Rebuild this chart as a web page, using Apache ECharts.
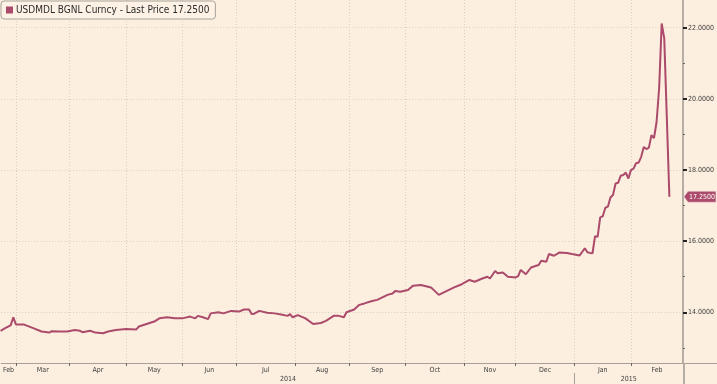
<!DOCTYPE html>
<html>
<head>
<meta charset="utf-8">
<title>USDMDL BGNL Curncy</title>
<script src="https://cdn.jsdelivr.net/npm/echarts@6/dist/echarts.min.js"></script>
<style>
  html, body { margin: 0; padding: 0; background: #fcefdf; }
  #chart { width: 717px; height: 384px; }
</style>
</head>
<body>
<div id="chart"></div>
<script>
// USDMDL fixings (weekday calendar, no weekends)
const dates = [
  '2014-02-21', '2014-02-25', '2014-02-26', '2014-02-27', '2014-02-28', '2014-03-03', '2014-03-06',
  '2014-03-12', '2014-03-17', '2014-03-20', '2014-03-21', '2014-03-26', '2014-03-31', '2014-04-03',
  '2014-04-07', '2014-04-08', '2014-04-11', '2014-04-15', '2014-04-18', '2014-04-22', '2014-04-25',
  '2014-05-01', '2014-05-07', '2014-05-08', '2014-05-13', '2014-05-16', '2014-05-20', '2014-05-23',
  '2014-05-28', '2014-06-02', '2014-06-05', '2014-06-09', '2014-06-10', '2014-06-12', '2014-06-16',
  '2014-06-17', '2014-06-20', '2014-06-24', '2014-06-27', '2014-07-02', '2014-07-04', '2014-07-08',
  '2014-07-09', '2014-07-10', '2014-07-14', '2014-07-17', '2014-07-22', '2014-07-25', '2014-07-29',
  '2014-07-30', '2014-07-31', '2014-08-04', '2014-08-07', '2014-08-12', '2014-08-15', '2014-08-19',
  '2014-08-22', '2014-08-26', '2014-08-28', '2014-08-29', '2014-09-03', '2014-09-05', '2014-09-09',
  '2014-09-12', '2014-09-16', '2014-09-22', '2014-09-24', '2014-09-25', '2014-09-29', '2014-10-02',
  '2014-10-06', '2014-10-09', '2014-10-15', '2014-10-16', '2014-10-20', '2014-10-22', '2014-10-24',
  '2014-10-28', '2014-10-31', '2014-11-05', '2014-11-07', '2014-11-12', '2014-11-14', '2014-11-17',
  '2014-11-19', '2014-11-20', '2014-11-24', '2014-11-26', '2014-12-01', '2014-12-02', '2014-12-03',
  '2014-12-05', '2014-12-09', '2014-12-11', '2014-12-12', '2014-12-15', '2014-12-17', '2014-12-18',
  '2014-12-22', '2014-12-24', '2014-12-29', '2014-12-31', '2015-01-05', '2015-01-07', '2015-01-08',
  '2015-01-09', '2015-01-12', '2015-01-13', '2015-01-14', '2015-01-15', '2015-01-16', '2015-01-19',
  '2015-01-20', '2015-01-21', '2015-01-22', '2015-01-23', '2015-01-26', '2015-01-27', '2015-01-28',
  '2015-01-29', '2015-01-30', '2015-02-02', '2015-02-03', '2015-02-04', '2015-02-05', '2015-02-06',
  '2015-02-09', '2015-02-10', '2015-02-11', '2015-02-12', '2015-02-13', '2015-02-16', '2015-02-17',
  '2015-02-18', '2015-02-19', '2015-02-23'
];
const prices = [
  13.48, 13.56, 13.60, 13.64, 13.86, 13.66, 13.66,
  13.55, 13.46, 13.43, 13.47, 13.46, 13.46, 13.50,
  13.48, 13.44, 13.48, 13.43, 13.41, 13.46, 13.50,
  13.53, 13.52, 13.60, 13.67, 13.74, 13.83, 13.86,
  13.83, 13.83, 13.88, 13.83, 13.90, 13.86, 13.81,
  13.97, 14.00, 13.97, 14.04, 14.02, 14.08, 14.08,
  13.95, 13.96, 14.04, 13.99, 13.97, 13.93, 13.90,
  13.95, 13.86, 13.92, 13.83, 13.67, 13.70, 13.76,
  13.90, 13.90, 13.86, 14.00, 14.08, 14.21, 14.25,
  14.32, 14.35, 14.49, 14.53, 14.60, 14.58, 14.63,
  14.75, 14.77, 14.70, 14.63, 14.49, 14.56, 14.63,
  14.70, 14.79, 14.91, 14.86, 14.95, 15.00, 14.95,
  15.16, 15.10, 15.12, 15.00, 14.98, 15.02, 15.19,
  15.07, 15.26, 15.31, 15.33, 15.45, 15.42, 15.64,
  15.59, 15.68, 15.67, 15.64, 15.60, 15.80, 15.69,
  15.67, 15.66, 16.14, 16.12, 16.67, 16.70, 16.94,
  16.97, 17.23, 17.30, 17.62, 17.64, 17.84, 17.86,
  17.93, 17.76, 18.00, 18.04, 18.19, 18.21, 18.37,
  18.65, 18.59, 18.63, 18.98, 18.90, 19.35, 20.30,
  22.12, 21.70, 17.25
];
const monthLabels = ['Feb', 'Mar', 'Apr', 'May', 'Jun', 'Jul', 'Aug', 'Sep', 'Oct', 'Nov', 'Dec', 'Jan', 'Feb'];
const monthStarts = ['2014-03-01', '2014-04-01', '2014-05-01', '2014-06-01', '2014-07-01', '2014-08-01',
  '2014-09-01', '2014-10-01', '2014-11-01', '2014-12-01', '2015-01-01', '2015-02-01'];
const yearLabels = ['2014', '2015'];
const yearStart = '2015-01-01';
const yMajorTicks = [14, 16, 18, 20, 22];
const yMinorTicks = [13, 15, 17, 19, 21];

const ticker = 'USDMDL BGNL Curncy';
const lineColor = '#ab4a6b';
const font = "'DejaVu Sans Condensed', 'DejaVu Sans', sans-serif";

// x is a weekday count from Mon 2014-02-24
const T0 = Date.UTC(2014, 1, 24);
function wd(s) {
  const p = s.split('-');
  const days = Math.round((Date.UTC(+p[0], +p[1] - 1, +p[2]) - T0) / 86400000);
  const weeks = Math.floor(days / 7);
  return weeks * 5 + Math.min(days - weeks * 7, 5);
}

const X_MIN = -0.72;
const X_MAX = 265.3;
const Y_MIN = 12.575;
const Y_MAX = 22.78;

const monthTicks = monthStarts.map(wd);
const edges = [X_MIN].concat(monthTicks, [X_MAX]);
const monthCenters = monthLabels.map((m, i) => (edges[i] + edges[i + 1]) / 2);
const yearTick = wd(yearStart);
const yearCenters = [(X_MIN + yearTick) / 2, (yearTick + X_MAX) / 2];

function nearestLabel(v, centers, labels) {
  let best = 0;
  centers.forEach((c, i) => { if (Math.abs(c - v) < Math.abs(centers[best] - v)) best = i; });
  return labels[best];
}

const lastPrice = prices[prices.length - 1];
const seriesName = ticker + ' - Last Price ' + lastPrice.toFixed(4);

const chart = echarts.init(document.getElementById('chart'));
const gridRight = 33;
const gridBottom = 21;

chart.setOption({
  animation: false,
  backgroundColor: '#fcefdf',
  textStyle: { fontFamily: font },
  grid: { left: 0, right: gridRight, top: 0, bottom: gridBottom, containLabel: false },
  legend: {
    left: 1,
    top: 1,
    padding: [4, 6, 4, 5],
    backgroundColor: '#fdf2e5',
    borderColor: '#a8a29a',
    borderWidth: 1,
    borderRadius: 3,
    icon: 'rect',
    itemWidth: 7,
    itemHeight: 7,
    selectedMode: false,
    textStyle: { color: '#2b2b2b', fontSize: 10, fontFamily: font, padding: [0, 0, 0, -2] },
    data: [seriesName]
  },
  xAxis: [{
    type: 'value',
    min: X_MIN,
    max: X_MAX,
    axisLine: { show: true, onZero: false, lineStyle: { color: '#a7a19a', width: 1 } },
    axisTick: { show: true, customValues: monthTicks, length: 3, lineStyle: { color: '#6b6661' } },
    axisLabel: {
      customValues: monthCenters,
      formatter: v => nearestLabel(v, monthCenters, monthLabels),
      color: '#3d3d3d', fontSize: 7, fontFamily: font, margin: 4
    },
    splitLine: { show: true, lineStyle: { color: '#d4d1c1', type: [1, 2], width: 1 } }
  }, {
    type: 'value',
    min: X_MIN,
    max: X_MAX,
    position: 'bottom',
    offset: 10,
    axisLine: { show: false, onZero: false },
    axisTick: { show: true, customValues: [yearTick], length: 11, lineStyle: { color: '#a7a19a' } },
    axisLabel: {
      customValues: yearCenters,
      formatter: v => nearestLabel(v, yearCenters, yearLabels),
      color: '#3d3d3d', fontSize: 7, fontFamily: font, margin: 3
    },
    splitLine: { show: false }
  }],
  yAxis: [{
    type: 'value',
    position: 'right',
    min: Y_MIN,
    max: Y_MAX,
    axisLine: { show: true, onZero: false, lineStyle: { color: '#b6aea5', width: 2 } },
    axisTick: { show: true, customValues: yMajorTicks, length: 4, lineStyle: { color: '#222', width: 2 } },
    axisLabel: {
      customValues: yMajorTicks,
      formatter: v => v.toFixed(4),
      color: '#3d3d3d', fontSize: 7, fontFamily: font, margin: 5
    },
    splitLine: { show: true, lineStyle: { color: '#d4d1c1', type: [1, 2], width: 1 } }
  }, {
    type: 'value',
    position: 'right',
    min: Y_MIN,
    max: Y_MAX,
    axisLine: { show: false, onZero: false },
    axisTick: { show: true, customValues: yMinorTicks, length: 2, lineStyle: { color: '#6b6661' } },
    axisLabel: { show: false },
    splitLine: { show: false }
  }],
  series: [{
    name: seriesName,
    type: 'line',
    xAxisIndex: 0,
    yAxisIndex: 0,
    data: dates.map((d, i) => [wd(d), prices[i]]),
    symbol: 'none',
    color: lineColor,
    lineStyle: { color: lineColor, width: 2 },
    markPoint: {
      symbol: 'path://M0,5 L5,0 L40,0 L40,10 L5,10 Z',
      symbolSize: [32, 11],
      symbolKeepAspect: false,
      symbolOffset: [17, 0],
      itemStyle: { color: lineColor, borderColor: '#f4d9e0', borderWidth: 0.5 },
      label: {
        show: true, position: 'inside', offset: [2, 0],
        formatter: () => lastPrice.toFixed(4),
        color: '#fff', fontSize: 7, fontFamily: font
      },
      data: [{ coord: [X_MAX, lastPrice] }]
    }
  }],
  graphic: [{
    type: 'line',
    silent: true,
    shape: { x1: 717 - gridRight, y1: 384 - gridBottom, x2: 717 - gridRight, y2: 384 },
    style: { stroke: '#b6aea5', lineWidth: 2 }
  }, {
    type: 'line',
    silent: true,
    shape: { x1: 717 - gridRight, y1: 384 - gridBottom + 0.5, x2: 717, y2: 384 - gridBottom + 0.5 },
    style: { stroke: '#a7a19a', lineWidth: 1 }
  }]
});
</script>
</body>
</html>
